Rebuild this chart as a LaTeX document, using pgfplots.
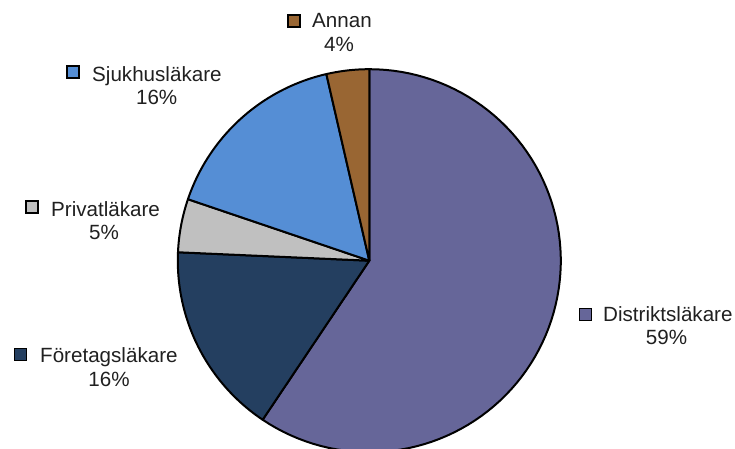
\documentclass[border=0pt]{standalone}
\usepackage{pgfplots}
\pgfplotsset{compat=1.18}
\usepackage{fontspec}
\setmainfont{Liberation Sans}
\definecolor{cDist}{HTML}{666699}
\definecolor{cForet}{HTML}{243F60}
\definecolor{cPriv}{HTML}{C0C0C0}
\definecolor{cSjuk}{HTML}{558ED5}
\definecolor{cAnnan}{HTML}{996633}
\definecolor{txt}{HTML}{202020}
\begin{document}
\begin{tikzpicture}[
  lab/.style={font=\fontsize{20.6}{24}\selectfont, inner sep=0pt, text=txt},
  key/.style={draw=black, line width=1.6pt}]
\def\pcx{369.3}\def\pcy{188.3}\def\prad{191.5}
% shares in percent, clockwise from 12 o'clock
\def\vDist{59.4}\def\vForet{16.3}\def\vPriv{4.5}\def\vSjuk{16.2}\def\vAnnan{3.6}
\pgfmathsetmacro\aA{90-3.6*\vDist}
\pgfmathsetmacro\aB{\aA-3.6*\vForet}
\pgfmathsetmacro\aC{\aB-3.6*\vPriv}
\pgfmathsetmacro\aD{\aC-3.6*\vSjuk}
\pgfmathsetmacro\aE{\aD-3.6*\vAnnan}
\begin{axis}[at={(0,0)}, anchor=south west, scale only axis,
  width=735pt, height=449pt, xmin=0, xmax=735, ymin=0, ymax=449,
  hide axis, clip=false, samples=90]
\addplot[fill=cDist, draw=black, line width=2pt, line join=round, domain=\aA:90] ({\pcx+\prad*cos(x)},{\pcy+\prad*sin(x)}) -- (axis cs:\pcx,\pcy) -- cycle;
\addplot[fill=cForet, draw=black, line width=2pt, line join=round, domain=\aB:\aA] ({\pcx+\prad*cos(x)},{\pcy+\prad*sin(x)}) -- (axis cs:\pcx,\pcy) -- cycle;
\addplot[fill=cPriv, draw=black, line width=2pt, line join=round, domain=\aC:\aB] ({\pcx+\prad*cos(x)},{\pcy+\prad*sin(x)}) -- (axis cs:\pcx,\pcy) -- cycle;
\addplot[fill=cSjuk, draw=black, line width=2pt, line join=round, domain=\aD:\aC] ({\pcx+\prad*cos(x)},{\pcy+\prad*sin(x)}) -- (axis cs:\pcx,\pcy) -- cycle;
\addplot[fill=cAnnan, draw=black, line width=2pt, line join=round, domain=\aE:\aD] ({\pcx+\prad*cos(x)},{\pcy+\prad*sin(x)}) -- (axis cs:\pcx,\pcy) -- cycle;
% labels
\draw[key, fill=cAnnan] (axis cs:288,422) rectangle (axis cs:300,434);
\node[lab, anchor=base west] at (axis cs:312,421) {Annan};
\node[lab, anchor=base] at (axis cs:339,397) {4\%};
\draw[key, fill=cSjuk] (axis cs:67,371) rectangle (axis cs:79,383);
\node[lab, anchor=base west] at (axis cs:92,367.3) {Sjukhusläkare};
\node[lab, anchor=base] at (axis cs:156.7,344) {16\%};
\draw[key, fill=cPriv] (axis cs:26,236) rectangle (axis cs:38,248);
\node[lab, anchor=base west] at (axis cs:51,232.3) {Privatläkare};
\node[lab, anchor=base] at (axis cs:104,209) {5\%};
\draw[key, fill=cForet] (axis cs:14.5,88.5) rectangle (axis cs:26.5,100.5);
\node[lab, anchor=base west] at (axis cs:40,86.3) {Företagsläkare};
\node[lab, anchor=base] at (axis cs:109,62.3) {16\%};
\draw[key, fill=cDist] (axis cs:579.5,128.5) rectangle (axis cs:591.5,140.5);
\node[lab, anchor=base west] at (axis cs:603,127.3) {Distriktsläkare};
\node[lab, anchor=base] at (axis cs:666.5,104) {59\%};
\end{axis}
\pgfresetboundingbox
\path (current axis.south west) rectangle (current axis.north east);
\end{tikzpicture}
\end{document}
